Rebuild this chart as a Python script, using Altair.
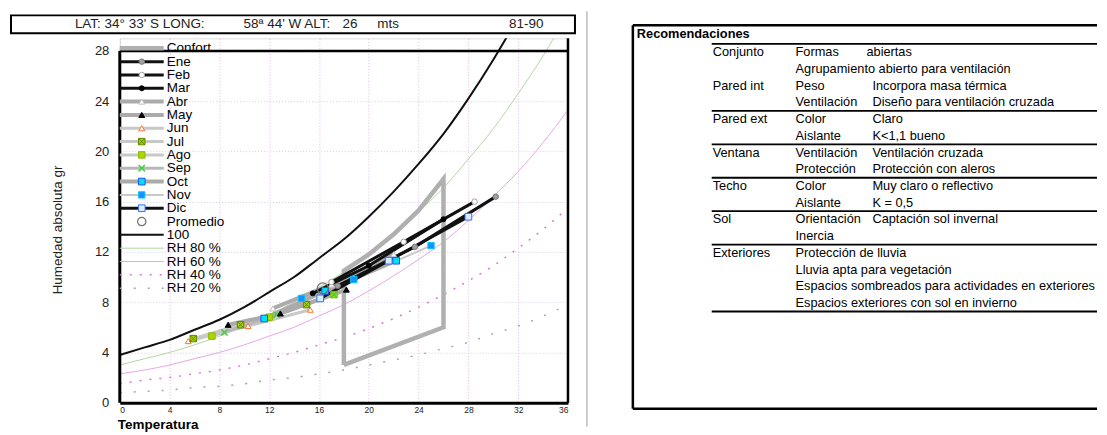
import altair as alt
import pandas as pd

# ---------------- values ----------------
T_CURVE = [0, 2, 4, 6, 8, 10, 12, 14, 16, 18, 20, 22, 24, 26, 28, 30, 32, 34, 36]
H_100 = [3.8, 4.4, 5.0, 5.8, 6.6, 7.6, 8.8, 10.0, 11.5, 13.0, 14.8, 16.8, 19.0, 21.4, 24.2, 27.3, 30.7, 34.5, 38.8]
H_RH80 = [3.0, 3.5, 4.0, 4.6, 5.3, 6.1, 7.0, 8.0, 9.2, 10.4, 11.8, 13.4, 15.2, 17.1, 19.4, 21.8, 24.6, 27.6, 31.0]
H_RH60 = [2.3, 2.6, 3.0, 3.5, 4.0, 4.6, 5.3, 6.0, 6.9, 7.8, 8.9, 10.1, 11.4, 12.8, 14.5, 16.4, 18.4, 20.7, 23.3]
H_RH40 = [1.5, 1.8, 2.0, 2.3, 2.6, 3.0, 3.5, 4.0, 4.6, 5.2, 5.9, 6.7, 7.6, 8.6, 9.7, 10.9, 12.3, 13.8, 15.5]
H_RH20 = [0.8, 0.9, 1.0, 1.2, 1.3, 1.5, 1.8, 2.0, 2.3, 2.6, 3.0, 3.4, 3.8, 4.3, 4.8, 5.5, 6.1, 6.9, 7.8]

CONF_T = [18, 18, 20, 22, 24, 26, 26, 18]
CONF_H = [3.0, 10.5, 11.8, 13.4, 15.3, 17.8, 6.0, 3.0]

MONTHS = ["Ene", "Feb", "Mar", "Abr", "May", "Jun", "Jul", "Ago", "Sep", "Oct", "Nov", "Dic"]
MONTH_T = {
    "Ene": [17.5, 23.7, 30.2], "Feb": [17.0, 22.8, 28.5], "Mar": [15.5, 20.0, 26.0],
    "Abr": [12.3, 17.0, 22.0], "May": [8.7, 12.9, 18.2], "Jun": [5.5, 10.3, 15.3],
    "Jul": [5.9, 9.7, 15.0], "Ago": [7.4, 12.0, 17.2], "Sep": [8.4, 12.6, 17.2],
    "Oct": [11.6, 16.5, 22.2], "Nov": [14.6, 18.8, 25.0], "Dic": [16.1, 21.6, 28.0],
}
MONTH_H = {
    "Ene": [9.3, 12.4, 16.4], "Feb": [9.6, 12.8, 16.0], "Mar": [8.7, 10.9, 14.6],
    "Abr": [7.5, 9.4, 11.8], "May": [6.2, 7.1, 9.0], "Jun": [4.9, 6.1, 7.4],
    "Jul": [5.1, 6.2, 7.8], "Ago": [5.3, 6.8, 8.6], "Sep": [5.6, 7.0, 8.6],
    "Oct": [6.7, 8.9, 11.3], "Nov": [8.3, 9.8, 12.5], "Dic": [8.3, 11.3, 14.8],
}
PROM_T = [16.3]
PROM_H = [9.1]

X_TICKS = [0, 4, 8, 12, 16, 20, 24, 28, 32, 36]
Y_TICKS = [0, 4, 8, 12, 16, 20, 24, 28]

LEGEND_LABELS = ["Confort"] + MONTHS + ["Promedio", "100", "RH 80 %", "RH 60 %", "RH 40 %", "RH 20 %"]
TITLE_PARTS = ["LAT: 34° 33' S LONG:", "58ª 44' W ALT:", "26", "mts", "81-90"]
X_TITLE = "Temperatura"
Y_TITLE = "Humedad absoluta gr"

TABLE_HEADER = "Recomendaciones"
TABLE_C1 = ["Conjunto", "", "Pared int", "", "Pared ext", "", "Ventana", "", "Techo", "", "Sol", "",
            "Exteriores", "", "", ""]
TABLE_C2 = ["Formas", "Agrupamiento abierto para ventilación", "Peso", "Ventilación", "Color", "Aislante",
            "Ventilación", "Protección", "Color", "Aislante", "Orientación", "Inercia",
            "Protección de lluvia", "Lluvia apta para vegetación",
            "Espacios sombreados para actividades en exteriores", "Espacios exteriores con sol en invierno"]
TABLE_C3 = ["abiertas", "", "Incorpora masa térmica", "Diseño para ventilación cruzada", "Claro", "K<1,1 bueno",
            "Ventilación cruzada", "Protección con aleros", "Muy claro o reflectivo", "K = 0,5",
            "Captación sol invernal", "", "", "", "", ""]
TABLE_BREAKS = [-1, 3, 5, 7, 9, 11, 15]

# ---------------- styling / layout ----------------
FONT = "Liberation Sans"
W, H = 449, 365
XS = alt.Scale(domain=[0, 36], nice=False, zero=False)
YS = alt.Scale(domain=[0, 29], nice=False, zero=False)
PX = alt.Scale(domain=[0, W], nice=False, zero=False)
PY = alt.Scale(domain=[0, H], nice=False, zero=False, reverse=True)

XSQ = "M-1,-1H1V1H-1Z M-1,-1L1,1 M1,-1L-1,1"
XMK = "M-1,-1L1,1 M1,-1L-1,1"
STYLE = {
    "Ene": dict(line="#111111", lw=3, shape="circle", fill="#a0a0a0", stroke="#7a7a7a", size=30),
    "Feb": dict(line="#111111", lw=3, shape="circle", fill="#ffffff", stroke="#a0a0a0", size=30),
    "Mar": dict(line="#111111", lw=3, shape="circle", fill="#000000", stroke="#000000", size=25),
    "Abr": dict(line="#ababab", lw=4, shape="triangle-up", fill="#ffffff", stroke="#c0c0c0", size=35),
    "May": dict(line="#ababab", lw=4, shape="triangle-up", fill="#000000", stroke="#000000", size=35),
    "Jun": dict(line="#c8c8c8", lw=3, shape="triangle-up", fill="#ffffff", stroke="#ff7030", size=35),
    "Jul": dict(line="#c8c8c8", lw=3, shape=XSQ, fill="#a8d000", stroke="#5f8a00", size=42),
    "Ago": dict(line="#c8c8c8", lw=3, shape="square", fill="#a8d800", stroke="#8cb800", size=42),
    "Sep": dict(line="#b8b8b8", lw=3, shape=XMK, fill=None, stroke="#40d040", size=40),
    "Oct": dict(line="#ababab", lw=4, shape="square", fill="#00e0f0", stroke="#2050ff", size=45),
    "Nov": dict(line="#c8c8c8", lw=2, shape="square", fill="#1890ff", stroke="#00c8ff", size=40),
    "Dic": dict(line="#111111", lw=3, shape="square", fill="#d8ecff", stroke="#3070ff", size=45),
}
CURVE_STYLE = {
    "100": dict(color="#111111", strokeWidth=2),
    "RH 80 %": dict(color="#b4d6a4", strokeWidth=1),
    "RH 60 %": dict(color="#e6a6e6", strokeWidth=1),
    "RH 40 %": dict(color="#d878d0", strokeWidth=1.5, strokeDash=[2, 8]),
    "RH 20 %": dict(color="#98b098", strokeWidth=1.5, strokeDash=[2, 12]),
}
CONF_STYLE = dict(color="#b0b0b0", strokeWidth=4.5)

X_AXIS = alt.Axis(values=X_TICKS, grid=True, gridColor="#e6b6e6", gridDash=[1, 2], gridWidth=1,
                  ticks=False, tickSize=0, domain=True, domainColor="#000000", domainWidth=3,
                  labelFontSize=8.5, labelColor="#222222", labelPadding=3, labelFont=FONT, title=None)
Y_AXIS = alt.Axis(values=Y_TICKS, grid=True, gridColor="#d2d2e6", gridDash=[1, 2], gridWidth=1,
                  ticks=False, tickSize=0, domain=False, labelFontSize=13, labelColor="#222222",
                  labelPadding=11, labelFont=FONT, title=None)


def tdf(ts, hs):
    return pd.DataFrame({"T": ts, "H": hs, "k": list(range(len(ts)))})


def dx():
    return alt.X("T:Q", scale=XS, axis=X_AXIS)


def dy():
    return alt.Y("H:Q", scale=YS, axis=Y_AXIS)


def point_mark(st):
    if st["fill"] is None:
        return dict(shape=st["shape"], size=st["size"], filled=False, stroke=st["stroke"],
                    color=st["stroke"], strokeWidth=1.5, opacity=1)
    return dict(shape=st["shape"], size=st["size"], filled=True, fill=st["fill"], stroke=st["stroke"],
                strokeWidth=1, opacity=1)


# ---------------- main (data) group ----------------
main_layers = []
curve_data = {"100": H_100, "RH 80 %": H_RH80, "RH 60 %": H_RH60, "RH 40 %": H_RH40, "RH 20 %": H_RH20}
for name in ["RH 20 %", "RH 40 %", "RH 60 %", "RH 80 %", "100"]:
    main_layers.append(
        alt.Chart(tdf(T_CURVE, curve_data[name])).mark_line(clip=True, interpolate="monotone",
                                                            **CURVE_STYLE[name])
        .encode(x=dx(), y=dy(), order="k:Q"))

# frame lines
main_layers.append(alt.Chart(pd.DataFrame({"T": [0], "T2": [36], "H": [28]})).mark_rule(
    color="#000000", strokeWidth=2.5).encode(x=dx(), x2="T2:Q", y=dy()))
main_layers.append(alt.Chart(pd.DataFrame({"T": [0], "H": [0], "H2": [28]})).mark_rule(
    color="#000000", strokeWidth=3).encode(x=dx(), y=dy(), y2="H2:Q"))
main_layers.append(alt.Chart(pd.DataFrame({"T": [36], "H": [0], "H2": [29]})).mark_rule(
    color="#000000", strokeWidth=2.5).encode(x=dx(), y=dy(), y2="H2:Q"))

# comfort polygon
main_layers.append(alt.Chart(tdf(CONF_T, CONF_H)).mark_line(strokeJoin="miter", **CONF_STYLE)
                   .encode(x=dx(), y=dy(), order="k:Q"))

# monthly lines (light first, black last)
line_order = ["Jun", "Jul", "Ago", "Nov", "Sep", "Abr", "May", "Oct", "Mar", "Feb", "Dic", "Ene"]
for m in line_order:
    st = STYLE[m]
    main_layers.append(alt.Chart(tdf(MONTH_T[m], MONTH_H[m])).mark_line(color=st["line"], strokeWidth=st["lw"])
                       .encode(x=dx(), y=dy(), order="k:Q"))
for m in line_order:
    st = STYLE[m]
    main_layers.append(alt.Chart(tdf(MONTH_T[m], MONTH_H[m])).mark_point(**point_mark(st))
                       .encode(x=dx(), y=dy()))
main_layers.append(alt.Chart(tdf(PROM_T, PROM_H)).mark_point(shape="circle", size=120, filled=False,
                                                              color="#707070", strokeWidth=1.2, opacity=1)
                   .encode(x=dx(), y=dy()))

main = alt.layer(*main_layers)


# ---------------- pixel (decoration) group ----------------
def px(field):
    return alt.X(field, scale=PX, axis=None)


def py(field):
    return alt.Y(field, scale=PY, axis=None)


def hrule(x0, x1, y, **mark):
    return alt.Chart(pd.DataFrame({"x": [x0], "x2": [x1], "y": [y]})).mark_rule(**mark).encode(
        x=px("x:Q"), x2="x2:Q", y=py("y:Q"))


def vrule(x, y0, y1, **mark):
    return alt.Chart(pd.DataFrame({"x": [x], "y": [y0], "y2": [y1]})).mark_rule(**mark).encode(
        x=px("x:Q"), y=py("y:Q"), y2="y2:Q")


def texts(xs_, ys_, ts_, **mark):
    df = pd.DataFrame({"x": xs_, "y": ys_, "t": ts_})
    return alt.Chart(df).mark_text(**mark).encode(x=px("x:Q"), y=py("y:Q"), text="t:N")


pix_layers = []
# title box
box = pd.DataFrame({"x": [-109], "x2": [456], "y": [-23], "y2": [-5]})
pix_layers.append(alt.Chart(box).mark_rect(fillOpacity=0, stroke="#000000", strokeWidth=2).encode(
    x=px("x:Q"), x2="x2:Q", y=py("y:Q"), y2="y2:Q"))
pix_layers.append(texts([-45, 124, 223, 258, 390], [-14] * 5, TITLE_PARTS, align="left", baseline="middle",
                        font=FONT, fontSize=13.5, color="#222222"))
# axis titles
pix_layers.append(texts([-2], [387], [X_TITLE], align="left", baseline="middle", font=FONT, fontSize=13.5,
                        fontWeight="bold", color="#000000"))
pix_layers.append(texts([-62], [192], [Y_TITLE], align="center", baseline="middle", font=FONT, fontSize=13.5,
                        angle=270, color="#222222"))
# separator
pix_layers.append(vrule(468, -27, 389, color="#9a9a9a", strokeWidth=1))

# legend
LEG_Y = [10 + 13.35 * i for i in range(len(LEGEND_LABELS))]
for i, lab in enumerate(LEGEND_LABELS):
    y = LEG_Y[i]
    if lab == "Confort":
        pix_layers.append(hrule(0, 44, y, **CONF_STYLE))
    elif lab in STYLE:
        pix_layers.append(hrule(0, 44, y, color=STYLE[lab]["line"], strokeWidth=STYLE[lab]["lw"]))
    elif lab in CURVE_STYLE:
        pix_layers.append(hrule(0, 44, y, **CURVE_STYLE[lab]))
for i, lab in enumerate(LEGEND_LABELS):
    y = LEG_Y[i]
    if lab in STYLE:
        pix_layers.append(alt.Chart(pd.DataFrame({"x": [22], "y": [y]})).mark_point(**point_mark(STYLE[lab]))
                          .encode(x=px("x:Q"), y=py("y:Q")))
    elif lab == "Promedio":
        pix_layers.append(alt.Chart(pd.DataFrame({"x": [22], "y": [y]})).mark_point(
            shape="circle", size=70, filled=False, color="#707070", strokeWidth=1.2, opacity=1)
            .encode(x=px("x:Q"), y=py("y:Q")))
pix_layers.append(texts([47] * len(LEGEND_LABELS), LEG_Y, LEGEND_LABELS, align="left", baseline="middle",
                        font=FONT, fontSize=13.5, color="#000000"))

# recommendations table
TB_L, TB_R, TB_T, TB_B = 514, 979, -13, 371
pix_layers.append(vrule(TB_L, TB_T, TB_B, color="#000000", strokeWidth=2.5))
pix_layers.append(hrule(TB_L, TB_R, TB_T, color="#000000", strokeWidth=2.5))
pix_layers.append(hrule(TB_L, TB_R, TB_B, color="#000000", strokeWidth=2.5))
ROW_Y = [14 + 16.75 * i for i in range(len(TABLE_C2))]
for b in TABLE_BREAKS:
    pix_layers.append(hrule(593, TB_R, 14 + 16.75 * b + 8.4, color="#000000", strokeWidth=1.8))
pix_layers.append(texts([518], [-4], [TABLE_HEADER], align="left", baseline="middle", font=FONT,
                        fontSize=12.8, fontWeight="bold", color="#000000"))
c1 = [(ROW_Y[i], t) for i, t in enumerate(TABLE_C1) if t]
c2 = [(ROW_Y[i], t) for i, t in enumerate(TABLE_C2) if t]
c3 = [(ROW_Y[i], t, 748 if i == 0 else 754) for i, t in enumerate(TABLE_C3) if t]
pix_layers.append(texts([594] * len(c1), [a for a, _ in c1], [b for _, b in c1], align="left",
                        baseline="middle", font=FONT, fontSize=12.8, color="#000000"))
pix_layers.append(texts([677] * len(c2), [a for a, _ in c2], [b for _, b in c2], align="left",
                        baseline="middle", font=FONT, fontSize=12.8, color="#000000"))
pix_layers.append(texts([c for _, _, c in c3], [a for a, _, _ in c3], [b for _, b, _ in c3], align="left",
                        baseline="middle", font=FONT, fontSize=12.8, color="#000000"))

pix = alt.layer(*pix_layers)

chart = (
    alt.layer(main, pix)
    .resolve_scale(x="independent", y="independent")
    .properties(width=W, height=H, padding={"left": 2, "top": 2, "right": 0, "bottom": 0},
                background="#ffffff")
    .configure_view(stroke=None)
    .configure(font=FONT)
)

chart.save("out.html", embed_options={"renderer": "svg", "actions": False})
